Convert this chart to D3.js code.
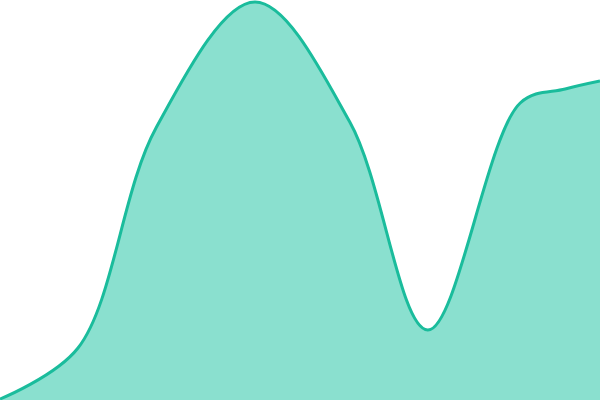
<!DOCTYPE html>
<html lang="en">
<head>
<meta charset="utf-8">
<title>area</title>
<script src="https://d3js.org/d3.v7.min.js"></script>
<style>
  body { margin: 0; background: #fff; }
  svg { display: block; }
</style>
</head>
<body>
<div id="chart"></div>
<script>
// data (x positions in % of width, values in % of height)
var positions = [0, 13, 26, 42.5, 58.3, 71.3, 86.7, 94.2, 100];
var values = [0.25, 13, 68, 99.5, 69.5, 17.5, 74.25, 77.75, 79.75];

var w = 600, h = 400;

var svg = d3.select("#chart").append("svg")
  .attr("width", w)
  .attr("height", h);

var x = d3.scaleLinear().domain([0, 100]).range([0, w]);
var y = d3.scaleLinear().domain([0, 100]).range([h, 0]);

var pts = positions.map(function(d, i) { return [d, values[i]]; });

var curve = d3.curveCatmullRom.alpha(0.5);

var area = d3.area()
  .x(function(d) { return x(d[0]); })
  .y0(h)
  .y1(function(d) { return y(d[1]); })
  .curve(curve);

var line = d3.line()
  .x(function(d) { return x(d[0]); })
  .y(function(d) { return y(d[1]); })
  .curve(curve);

svg.append("path")
  .datum(pts)
  .attr("d", area)
  .attr("fill", "#8ae0cf");

svg.append("path")
  .datum(pts)
  .attr("d", line)
  .attr("fill", "none")
  .attr("stroke", "#1abc9c")
  .attr("stroke-width", 3);
</script>
</body>
</html>
